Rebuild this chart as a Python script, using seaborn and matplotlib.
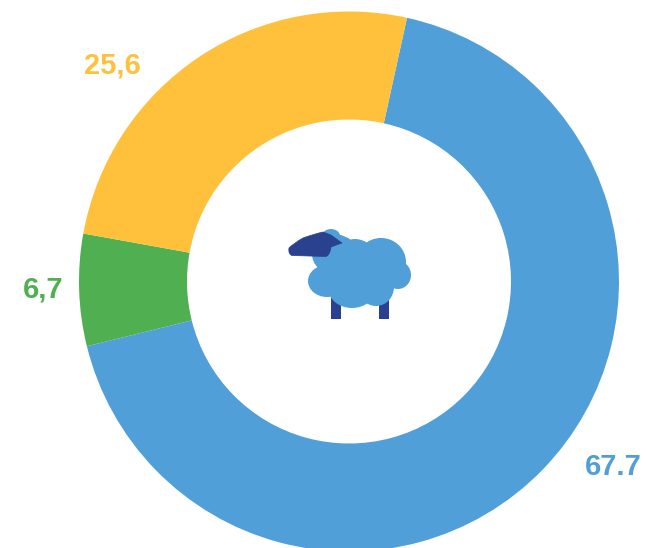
import numpy as np
import matplotlib
matplotlib.use('Agg')
import matplotlib.pyplot as plt
from matplotlib.patches import Ellipse, Rectangle, PathPatch
from matplotlib.path import Path
import seaborn as sns

# Values
values = [67.7, 6.7, 25.6]
labels = ['67.7', '6,7', '25,6']
colors = ['#519fd9', '#50af50', '#ffc13c']

sns.set_theme(style='white')
plt.rcParams['font.family'] = ['Liberation Sans', 'DejaVu Sans']

W, H = 646, 548
fig = plt.figure(figsize=(W / 100, H / 100), dpi=100)
ax = fig.add_axes([0, 0, 1, 1])
ax.set_xlim(0, W)
ax.set_ylim(H, 0)
ax.axis('off')

# pie is drawn in its own axes so it keeps the true circle
cx, cy, r = 349, 281.5, 270
pie_ax = fig.add_axes([(cx - r) / W, 1 - (cy + r) / H, 2 * r / W, 2 * r / H])
pie_ax.pie(values, colors=colors, startangle=77.6, counterclock=False, radius=1,
           wedgeprops=dict(width=1 - 162 / 270, edgecolor='none'))
pie_ax.set_xlim(-1, 1)
pie_ax.set_ylim(-1, 1)
pie_ax.axis('off')

ax.set_zorder(2)
ax.text(112, 66, labels[2], color=colors[2], fontsize=21, fontweight='bold', ha='center', va='center')
ax.text(43, 290, labels[1], color=colors[1], fontsize=21, fontweight='bold', ha='center', va='center')
ax.text(613, 467, labels[0], color=colors[0], fontsize=21, fontweight='bold', ha='center', va='center')

# sheep icon
navy = '#2a4190'
blue = colors[0]
ax.add_patch(Rectangle((331, 298), 10, 21, color=navy, lw=0))
ax.add_patch(Rectangle((378.5, 298), 10.5, 21, color=navy, lw=0))
lobes = [(381, 262, 25, 24), (355, 262, 22, 23), (398, 275, 13, 14), (352, 288, 24, 20),
         (376, 287, 18, 19), (327, 281, 19, 16), (334, 254, 22, 20), (331, 236, 9, 7),
         (344, 244, 8, 7), (360, 275, 32, 25)]
for x, y, rx, ry in lobes:
    ax.add_patch(Ellipse((x, y), 2 * rx, 2 * ry, color=blue, lw=0))

head = [(292, 255.5), (288, 254), (289, 248), (294, 243), (303, 238), (314, 234), (323, 232),
        (331, 235), (342, 243), (336, 245), (331, 247), (330, 255), (326, 256.5), (292, 255.5)]
codes = [Path.MOVETO, Path.CURVE3, Path.CURVE3, Path.CURVE3, Path.CURVE3, Path.CURVE3, Path.CURVE3,
         Path.LINETO, Path.LINETO, Path.CURVE3, Path.CURVE3, Path.CURVE3, Path.CURVE3, Path.LINETO]
ax.add_patch(PathPatch(Path(head, codes), facecolor=navy, edgecolor=navy, lw=0.5))

fig.savefig('out.png', dpi=100)
